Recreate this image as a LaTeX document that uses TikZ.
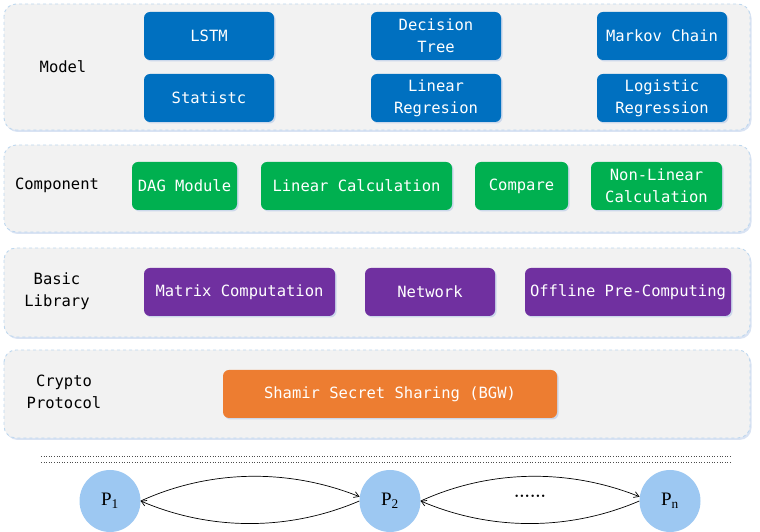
\documentclass[tikz,border=0pt]{standalone}
\usepackage{fontspec}
\setmonofont{DejaVu Sans Mono}
\newfontfamily\pfont{Liberation Serif}
\usetikzlibrary{shadows,shapes.geometric,arrows.meta}
\definecolor{layerfill}{HTML}{F2F2F2}
\definecolor{layerline}{HTML}{BDD7EE}
\definecolor{shadowblue}{HTML}{B4C7E7}
\definecolor{cblue}{HTML}{0070C0}
\definecolor{cgreen}{HTML}{00B050}
\definecolor{cpurple}{HTML}{7030A0}
\definecolor{corange}{HTML}{ED7D31}
\definecolor{ccircle}{HTML}{9DC8F2}
\newcommand\myboxfont{\fontsize{15.5}{22}\selectfont\ttfamily}
\begin{document}
\begin{tikzpicture}[x=1pt,y=1pt,
  layer/.style={draw=layerline, dashed, fill=layerfill, rounded corners=12pt, line width=0.9pt,
    drop shadow={shadow xshift=1.5pt, shadow yshift=-2pt, fill=shadowblue, opacity=0.5}},
  box/.style={rounded corners=6pt, text=white, minimum height=48pt, inner sep=2pt, align=center,
    font=\myboxfont, drop shadow={shadow xshift=1.5pt, shadow yshift=-1.5pt, fill=shadowblue, opacity=0.6}},
  mbox/.style={box, fill=cblue, minimum width=130pt},
  gbox/.style={box, fill=cgreen},
  pbox/.style={box, fill=cpurple},
  obox/.style={box, fill=corange},
  lab/.style={font=\myboxfont, align=center, text=black},
  party/.style={ellipse, fill=ccircle, minimum width=61pt, minimum height=62pt, inner sep=0pt, font=\pfont\fontsize{19}{22}\selectfont},
  arr/.style={-{Straight Barb[length=5pt,width=6pt]}, line width=0.7pt},
  dotline/.style={dotted, line width=0.6pt, black!70}]
\useasboundingbox (0,0) rectangle (760,532);
% layers
\path[layer] (4,528) rectangle (750,402);
\path[layer] (4,387) rectangle (750,300);
\path[layer] (4,284) rectangle (750,195);
\path[layer] (4,182) rectangle (750,94);
% model
\node[lab] (lmodel) at (63,465) {Model};
\node[mbox] (lstm) at (209,496) {LSTM};
\node[mbox] (stat) at (209,434) {Statistc};
\node[mbox] (dtree) at (436,496) {Decision\\Tree};
\node[mbox] (linreg) at (436,434) {Linear\\Regresion};
\node[mbox] (markov) at (662,496) {Markov Chain};
\node[mbox] (logreg) at (662,434) {Logistic\\Regression};
% component
\node[lab] (lcomp) at (57,347) {Component};
\node[gbox, minimum width=105pt] (dag) at (184.5,346) {DAG Module};
\node[gbox, minimum width=191pt] (lincalc) at (356.5,346) {Linear Calculation};
\node[gbox, minimum width=93pt] (cmp) at (521.5,346) {Compare};
\node[gbox, minimum width=131pt] (nonlin) at (656.5,346) {Non-Linear\\Calculation};
% basic library
\node[lab] (lbasic) at (57,241) {Basic\\Library};
\node[pbox, minimum width=191pt] (matrix) at (239.5,240) {Matrix Computation};
\node[pbox, minimum width=130pt] (net) at (430,240) {Network};
\node[pbox, minimum width=206pt] (offline) at (628,240) {Offline Pre-Computing};
% crypto
\node[lab] (lcrypto) at (64,140) {Crypto\\Protocol};
\node[obox, minimum width=334pt] (shamir) at (390,138) {Shamir Secret Sharing (BGW)};
% dotted separator
\coordinate (d1a) at (41,76); \coordinate (d1b) at (732,76);
\coordinate (d2a) at (41,70); \coordinate (d2b) at (732,70);
\draw[dotline] (d1a) -- (d1b);
\draw[dotline] (d2a) -- (d2b);
% parties
\node[party] (p1) at (110,31) {P\textsubscript{1}};
\node[party] (p2) at (390,31) {P\textsubscript{2}};
\node[party] (pn) at (670,31) {P\textsubscript{n}};
\draw[arr] (p1.east) .. controls +(70,32) and +(-70,28) .. (p2.172);
\draw[arr] (p2.west) .. controls +(-70,-30) and +(70,-30) .. (p1.east);
\draw[arr] (p2.east) .. controls +(70,32) and +(-70,28) .. (pn.172);
\draw[arr] (pn.west) .. controls +(-70,-30) and +(70,-30) .. (p2.east);
\node[font=\bfseries\fontsize{17}{19}\selectfont] (dots) at (530,36) {......};
\end{tikzpicture}
\end{document}
